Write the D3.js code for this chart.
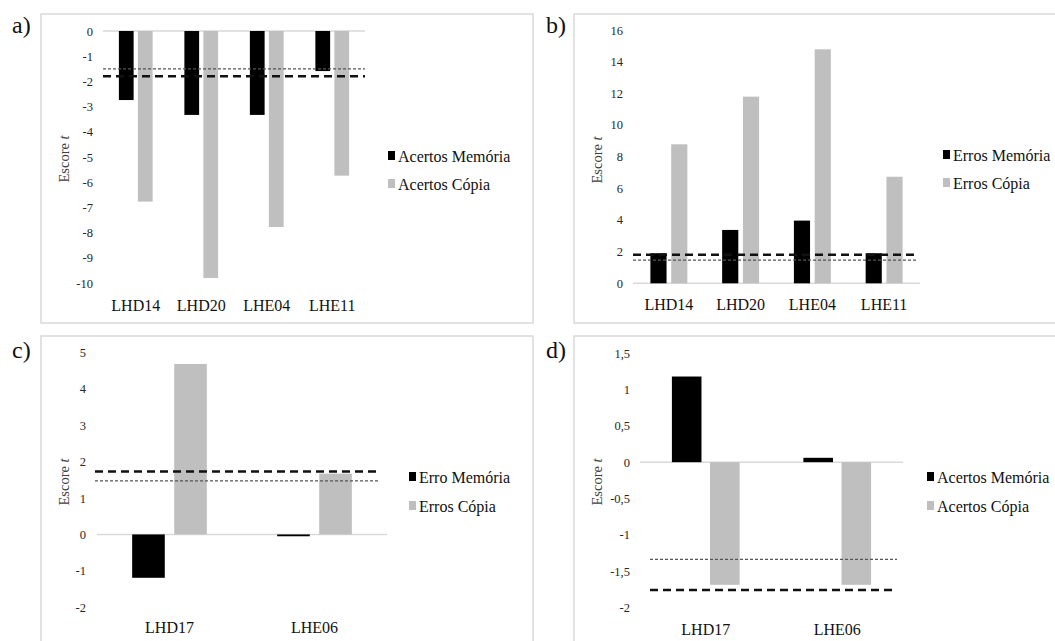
<!DOCTYPE html>
<html><head><meta charset="utf-8">
<script src="https://cdn.jsdelivr.net/npm/d3@7"></script>
<style>
html,body{margin:0;padding:0;background:#fff;}
svg{display:block;}
svg text{font-family:"Liberation Serif","Tinos","DejaVu Serif",serif !important;}
</style></head>
<body>
<svg id="chart" width="1055" height="641"></svg>
<script>
// ---------- DATA ----------
const categoriesAB = ["LHD14", "LHD20", "LHE04", "LHE11"];
const categoriesCD = ["LHD17", "LHE06"];

const aAcertosMemoria = [-2.74, -3.33, -3.33, -1.59];
const aAcertosCopia   = [-6.77, -9.80, -7.78, -5.74];
const bErrosMemoria   = [1.90, 3.37, 3.96, 1.90];
const bErrosCopia     = [8.78, 11.79, 14.78, 6.73];
const cErroMemoria    = [-1.19, -0.05];
const cErrosCopia     = [4.68, 1.67];
const dAcertosMemoria = [1.18, 0.06];
const dAcertosCopia   = [-1.69, -1.69];

const aThresholds = {dashed: -1.8, dotted: -1.5};
const bThresholds = {dashed: 1.8, dotted: 1.47};
const cThresholds = {dashed: 1.73, dotted: 1.47};
const dThresholds = {dashed: -1.76, dotted: -1.34};

const aTicks = [0, -1, -2, -3, -4, -5, -6, -7, -8, -9, -10];
const bTicks = [0, 2, 4, 6, 8, 10, 12, 14, 16];
const cTicks = [-2, -1, 0, 1, 2, 3, 4, 5];
const dTicks = [-2, -1.5, -1, -0.5, 0, 0.5, 1, 1.5];

const aLegend = ["Acertos Memória", "Acertos Cópia"];
const bLegend = ["Erros Memória", "Erros Cópia"];
const cLegend = ["Erro Memória", "Erros Cópia"];
const dLegend = ["Acertos Memória", "Acertos Cópia"];

const panelLabels = ["a)", "b)", "c)", "d)"];
const seriesColors = ["#000000", "#bfbfbf"];

// ---------- LAYOUT ----------
const svg = d3.select("#chart");
const ptLocale = d3.formatLocale({decimal: ",", thousands: ".", grouping: [3], currency: ["", ""], minus: "-"});
const fmt = ptLocale.format("~g");

const frames = [
  {x: 41, y: 14, w: 492, h: 309},
  {x: 574, y: 14, w: 500, h: 309},
  {x: 41, y: 336, w: 492, h: 320},
  {x: 574, y: 336, w: 500, h: 320}
];
frames.forEach(f => {
  svg.append("rect").attr("x", f.x).attr("y", f.y).attr("width", f.w).attr("height", f.h)
    .attr("fill", "none").attr("stroke", "#d9d9d9").attr("stroke-width", 1.5);
});

const labelPos = [[12, 33], [546, 33], [12, 358], [546, 358]];
panelLabels.forEach((t, i) => {
  svg.append("text").attr("x", labelPos[i][0]).attr("y", labelPos[i][1])
    .attr("font-size", 24).attr("fill", "#111").text(t);
});

const panels = [
  {cats: categoriesAB, series: [aAcertosMemoria, aAcertosCopia], ticks: aTicks, thr: aThresholds, legend: aLegend,
   domain: [-10, 0], yr: [283, 31], xr: [103, 365], thrX: [103, 365], tickX: 93, titleX: 65, titleY: 159,
   catY: 311, legX: 388, legY: [162, 190]},
  {cats: categoriesAB, series: [bErrosMemoria, bErrosCopia], ticks: bTicks, thr: bThresholds, legend: bLegend,
   domain: [0, 16], yr: [283.3, 30], xr: [633, 920], thrX: [633, 917], tickX: 623, titleX: 598, titleY: 160,
   catY: 310, legX: 943, legY: [161, 189]},
  {cats: categoriesCD, series: [cErroMemoria, cErrosCopia], ticks: cTicks, thr: cThresholds, legend: cLegend,
   domain: [-2, 5], yr: [607.3, 352.3], xr: [97, 387], thrX: [95, 378], tickX: 86, titleX: 65, titleY: 482,
   catY: 633, legX: 409, legY: [483, 512]},
  {cats: categoriesCD, series: [dAcertosMemoria, dAcertosCopia], ticks: dTicks, thr: dThresholds, legend: dLegend,
   domain: [-2, 1.5], yr: [607.3, 353.3], xr: [640, 903], thrX: [650, 897], tickX: 630, titleX: 598, titleY: 482,
   catY: 635, legX: 927, legY: [483, 512]}
];

panels.forEach(p => {
  const g = svg.append("g");
  const y = d3.scaleLinear().domain(p.domain).range(p.yr);
  const x0 = d3.scaleBand().domain(p.cats).range(p.xr);
  const bw = x0.bandwidth();
  const x1 = d3.scaleBand().domain([0, 1]).range([bw * 0.2425, bw * 0.7575]).paddingInner(0.224);

  const ax = g.append("g").attr("transform", `translate(${p.tickX},0)`)
    .call(d3.axisLeft(y).tickValues(p.ticks).tickSize(0).tickPadding(0).tickFormat(fmt));
  ax.select(".domain").remove();
  ax.attr("font-family", null);
  ax.selectAll("text").attr("font-size", 12.5).attr("fill", "#262626");

  g.append("line").attr("x1", p.xr[0]).attr("x2", p.xr[1]).attr("y1", y(0)).attr("y2", y(0))
    .attr("stroke", "#d9d9d9").attr("stroke-width", 1.5);

  p.series.forEach((vals, si) => {
    g.selectAll(null).data(vals).enter().append("rect")
      .attr("x", (d, i) => x0(p.cats[i]) + x1(si))
      .attr("width", x1.bandwidth())
      .attr("y", d => Math.min(y(d), y(0)))
      .attr("height", d => Math.max(1.5, Math.abs(y(d) - y(0))))
      .attr("fill", seriesColors[si]);
  });

  g.append("line").attr("x1", p.thrX[0]).attr("x2", p.thrX[1])
    .attr("y1", y(p.thr.dotted)).attr("y2", y(p.thr.dotted))
    .attr("stroke", "#555").attr("stroke-width", 1.3).attr("stroke-dasharray", "3,2");
  g.append("line").attr("x1", p.thrX[0]).attr("x2", p.thrX[1])
    .attr("y1", y(p.thr.dashed)).attr("y2", y(p.thr.dashed))
    .attr("stroke", "#111").attr("stroke-width", 2.5).attr("stroke-dasharray", "8,5");

  g.selectAll(null).data(p.cats).enter().append("text")
    .attr("x", d => x0(d) + bw / 2).attr("y", p.catY)
    .attr("text-anchor", "middle").attr("font-size", 16).attr("fill", "#111").text(d => d);

  const t = g.append("text").attr("transform", `translate(${p.titleX + 4},${p.titleY}) rotate(-90)`)
    .attr("text-anchor", "middle").attr("font-size", 14.5).attr("fill", "#404040");
  t.append("tspan").text("Escore ");
  t.append("tspan").attr("font-style", "italic").text("t");

  p.legend.forEach((lab, i) => {
    g.append("rect").attr("x", p.legX).attr("y", p.legY[i] - 11).attr("width", 7).attr("height", 9)
      .attr("fill", seriesColors[i]);
    g.append("text").attr("x", p.legX + 10).attr("y", p.legY[i]).attr("font-size", 16)
      .attr("fill", "#111").text(lab);
  });
});
</script>
</body></html>
